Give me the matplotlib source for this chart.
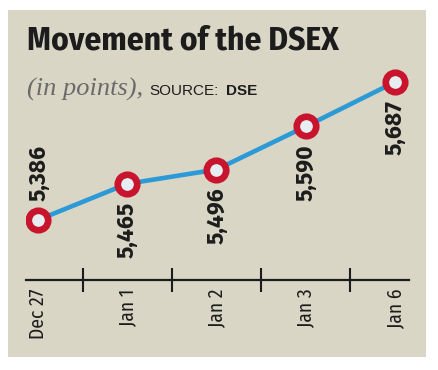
import matplotlib
matplotlib.use("Agg")
import matplotlib.pyplot as plt
from matplotlib.patches import Rectangle

# Data
dates = ['Dec 27', 'Jan 1', 'Jan 2', 'Jan 3', 'Jan 6']
dsex = [5386, 5465, 5496, 5590, 5687]
label_side = ['above', 'below', 'below', 'below', 'below']

cond = ['Fira Sans Condensed', 'DejaVu Sans']
wide = ['Fira Sans', 'DejaVu Sans']
bg = '#d9d6c6'
red = '#c8142c'
blue = '#2b9ad6'
ink = '#1c1c1c'

fig = plt.figure(figsize=(4.39, 3.70), dpi=100)
fig.patch.set_facecolor('white')
fig.patches.append(Rectangle((0.0182, 0.0351), 0.952, 0.938, transform=fig.transFigure,
                             facecolor=bg, edgecolor='none', zorder=-5))

ax = fig.add_axes([0.0601, 0.2432, 0.8722, 0.5946])
ax.set_facecolor('none')
x = list(range(len(dates)))
ax.plot(x, dsex, color=blue, lw=3.3, zorder=2)
ax.plot(x, dsex, ls='none', marker='o', ms=14, mew=4.8, mec=red, mfc='#e6eef2', zorder=3)

for xi, v, side in zip(x, dsex, label_side):
    if side == 'above':
        ax.annotate(f'{v:,}', (xi, v), xytext=(1, 14), textcoords='offset points',
                    rotation=90, ha='center', va='bottom', fontsize=16.5,
                    fontweight='bold', family=wide, color=ink)
    else:
        ax.annotate(f'{v:,}', (xi, v), xytext=(0, -13), textcoords='offset points',
                    rotation=90, ha='center', va='top', fontsize=16.5,
                    fontweight='bold', family=wide, color=ink)

ax.set_xlim(-0.13, 4.16)
ax.set_ylim(5255, 5735)
for s in ['top', 'left', 'right']:
    ax.spines[s].set_visible(False)
ax.spines['bottom'].set_color(ink)
ax.spines['bottom'].set_linewidth(1.6)
ax.set_yticks([])
ax.set_xticks(x)
ax.set_xticklabels(dates, rotation=90, va='top', ha='center', fontsize=14,
                   family=cond, color=ink)
ax.set_xticks([i + 0.5 for i in x[:-1]], minor=True)
ax.tick_params(axis='x', which='major', length=0, pad=6)
ax.tick_params(axis='x', which='minor', direction='inout', length=17, width=1.5, color=ink)

# Title and subtitle
fig.text(0.0615, 0.865, 'Movement of the DSEX', fontsize=24, fontweight='bold',
         family=cond, color=ink, va='baseline')
t1 = fig.text(0.0615, 0.743, '(in points),', fontsize=19, style='italic',
              family='Liberation Serif', color='#6a6a6a', va='baseline')
fig.canvas.draw()
r = fig.canvas.get_renderer()
inv = fig.transFigure.inverted()
x1 = inv.transform(t1.get_window_extent(r).p1)[0]
t2 = fig.text(x1 + 0.014, 0.743, 'SOURCE:', fontsize=11, family='Liberation Sans',
              color=ink, va='baseline')
fig.canvas.draw()
x2 = inv.transform(t2.get_window_extent(r).p1)[0]
fig.text(x2 + 0.016, 0.743, 'DSE', fontsize=11, fontweight='bold', family='Liberation Sans',
         color=ink, va='baseline')

fig.savefig('out.png', dpi=100, facecolor='white')
